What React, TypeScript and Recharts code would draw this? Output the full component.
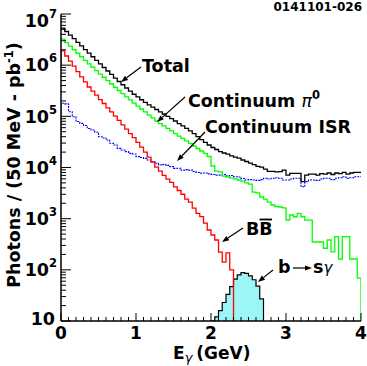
import { Area, ComposedChart, Line, XAxis, YAxis } from 'recharts';

const FONT = "'DejaVu Sans', sans-serif";

// 50 MeV bins, left edges in GeV
const binStart = [
  0, 0.05, 0.1, 0.15, 0.2, 0.25, 0.3, 0.35, 0.4, 0.45,
  0.5, 0.55, 0.6, 0.65, 0.7, 0.75, 0.8, 0.85, 0.9, 0.95,
  1.0, 1.05, 1.1, 1.15, 1.2, 1.25, 1.3, 1.35, 1.4, 1.45,
  1.5, 1.55, 1.6, 1.65, 1.7, 1.75, 1.8, 1.85, 1.9, 1.95,
  2.0, 2.05, 2.1, 2.15, 2.2, 2.25, 2.3, 2.35, 2.4, 2.45,
  2.5, 2.55, 2.6, 2.65, 2.7, 2.75, 2.8, 2.85, 2.9, 2.95,
  3.0, 3.05, 3.1, 3.15, 3.2, 3.25, 3.3, 3.35, 3.4, 3.45,
  3.5, 3.55, 3.6, 3.65, 3.7, 3.75, 3.8, 3.85, 3.9, 3.95,
];

const total = [
  5.3e6, 4.55e6, 3.87e6, 3.29e6, 2.8e6, 2.38e6, 2.02e6, 1.72e6, 1.46e6, 1.24e6,
  1.06e6, 9.0e5, 7.7e5, 6.6e5, 5.6e5, 4.8e5, 4.14e5, 3.58e5, 3.1e5, 2.7e5,
  2.39e5, 2.11e5, 1.88e5, 1.68e5, 1.51e5, 1.36e5, 1.22e5, 1.11e5, 1.0e5, 9.0e4,
  8.1e4, 7.2e4, 6.5e4, 5.8e4, 5.2e4, 4.6e4, 4.0e4, 3.5e4, 3.1e4, 2.75e4,
  2.46e4, 2.25e4, 2.05e4, 1.92e4, 1.82e4, 1.69e4, 1.6e4, 1.52e4, 1.4e4, 1.31e4,
  1.22e4, 1.14e4, 1.05e4, 1.02e4, 9.3e3, 8.4e3, 8.4e3, 8.2e3, 8.3e3, 8.9e3,
  7.1e3, 7.7e3, 7.7e3, 7.7e3, 5.3e3, 7.1e3, 7.4e3, 7.4e3, 7.1e3, 7.6e3,
  7.4e3, 7.8e3, 7.3e3, 7.8e3, 7.6e3, 8.0e3, 7.4e3, 7.8e3, 8.0e3, 8.0e3,
];

const continuumPi0 = [
  3.24e6, 2.76e6, 2.35e6, 2.0e6, 1.71e6, 1.46e6, 1.24e6, 1.06e6, 9.1e5, 7.8e5,
  6.7e5, 5.8e5, 4.97e5, 4.28e5, 3.7e5, 3.2e5, 2.77e5, 2.41e5, 2.1e5, 1.82e5,
  1.59e5, 1.39e5, 1.22e5, 1.06e5, 9.3e4, 8.1e4, 7.2e4, 6.5e4, 5.8e4, 5.2e4,
  4.6e4, 4.1e4, 3.7e4, 3.3e4, 2.94e4, 2.63e4, 2.35e4, 2.1e4, 1.88e4, 1.64e4,
  1.07e4, 8.5e3, 8.2e3, 6.8e3, 6.5e3, 6.2e3, 6.0e3, 5.7e3, 5.4e3, 5.0e3,
  4.75e3, 3.3e3, 3.2e3, 2.65e3, 2.42e3, 2.1e3, 1.85e3, 1.73e3, 1.69e3, 1.62e3,
  942, 1180, 1090, 1270, 1090, 940, 940, 350, 350, 350,
  264, 383, 225, 444, 163, 444, 444, 163, 163, 69,
];

const continuumIsr = [
  1.8e5, 1.75e5, 1.23e5, 9.8e4, 7.9e4, 7.3e4, 6.6e4, 5.8e4, 5.4e4, 4.9e4,
  4.0e4, 3.77e4, 3.44e4, 2.97e4, 2.75e4, 2.37e4, 2.2e4, 2.04e4, 1.89e4, 1.84e4,
  1.63e4, 1.57e4, 1.51e4, 1.4e4, 1.3e4, 1.21e4, 1.12e4, 1.14e4, 1.1e4, 1.04e4,
  9.6e3, 9.7e3, 8.9e3, 9.1e3, 8.9e3, 8.35e3, 8.0e3, 7.7e3, 7.8e3, 7.5e3,
  7.3e3, 7.1e3, 7.1e3, 7.3e3, 6.85e3, 7.0e3, 6.6e3, 6.5e3, 6.1e3, 5.7e3,
  5.8e3, 5.7e3, 5.6e3, 5.8e3, 6.15e3, 5.95e3, 6.15e3, 6.3e3, 6.15e3, 5.7e3,
  5.7e3, 5.95e3, 6.15e3, 6.15e3, 4.2e3, 5.3e3, 5.7e3, 5.7e3, 5.6e3, 5.95e3,
  6.15e3, 6.15e3, 5.8e3, 6.15e3, 6.3e3, 6.6e3, 6.15e3, 6.3e3, 6.6e3, 6.6e3,
];

// BBbar drops off the scale (below 10) above 2.3 GeV
const bbbar = [
  1.9e6, 1.51e6, 1.2e6, 9.6e5, 7.5e5, 5.9e5, 4.7e5, 3.74e5, 3.1e5, 2.6e5,
  2.13e5, 1.78e5, 1.46e5, 1.22e5, 1.01e5, 8.3e4, 6.8e4, 5.6e4, 4.6e4, 3.85e4,
  3.1e4, 2.5e4, 2.0e4, 1.6e4, 1.28e4, 1.02e4, 8.5e3, 7.0e3, 5.95e3, 5.1e3,
  4.2e3, 3.55e3, 3.0e3, 2.4e3, 2.1e3, 1.6e3, 1.27e3, 1.1e3, 820, 600,
  480, 383, 222, 142, 214, 100, 1, null, null, null,
  null, null, null, null, null, null, null, null, null, null,
  null, null, null, null, null, null, null, null, null, null,
  null, null, null, null, null, null, null, null, null, null,
];

// b -> s gamma signal, 2.05 - 2.70 GeV (10 = axis floor)
const bToSGamma = [
  null, null, null, null, null, null, null, null, null, null,
  null, null, null, null, null, null, null, null, null, null,
  null, null, null, null, null, null, null, null, null, null,
  null, null, null, null, null, null, null, null, null, null,
  10, 12, 16, 23, 33, 47, 66, 80, 88, 85,
  76, 64, 48, 27, 10, null, null, null, null, null,
  null, null, null, null, null, null, null, null, null, null,
  null, null, null, null, null, null, null, null, null, null,
];

// level the BBbar and ISR histograms rise from at E = 0
const startBbbar = 8.8e5;
const startIsr = 1.28e4;
// green histogram falls off the scale at the 4 GeV edge
const pi0AfterEnd = 1;

const xTicks = Array.from({ length: 41 }, (_, i) => i / 10);
const yTicks = [10, 100, 1e3, 1e4, 1e5, 1e6]
  .flatMap((d) => [1, 2, 3, 4, 5, 6, 7, 8, 9].map((m) => m * d))
  .concat([1e7]);

const rows = [
  { e: 0, bbbar: startBbbar, isr: startIsr },
  ...binStart.map((e, i) => ({
    e,
    total: total[i],
    pi0: continuumPi0[i],
    isr: continuumIsr[i],
    bbbar: bbbar[i],
    bsg: bToSGamma[i],
  })),
  { e: 4, total: total[79], pi0: pi0AfterEnd, isr: continuumIsr[79] },
];

const isMajorX = (v: number) => Math.abs(v - Math.round(v)) < 1e-6;
const isDecade = (v: number) => Math.abs(Math.log10(v) - Math.round(Math.log10(v))) < 1e-6;

function BottomTick({ x, y, payload }: any) {
  const major = isMajorX(payload.value);
  return (
    <g>
      <line x1={x} x2={x} y1={y} y2={y - (major ? 8 : 4)} stroke="#000" strokeWidth={1} />
      {major && (
        <text x={x} y={y + 18} textAnchor="middle" fontFamily={FONT} fontWeight="bold" fontSize={17} fill="#000">
          {Math.round(payload.value)}
        </text>
      )}
    </g>
  );
}

function TopTick({ x, y, payload }: any) {
  const major = isMajorX(payload.value);
  return <line x1={x} x2={x} y1={y} y2={y + (major ? 8 : 4)} stroke="#000" strokeWidth={1} />;
}

function LeftTick({ x, y, payload }: any) {
  const v = payload.value;
  const major = isDecade(v);
  const exp = Math.round(Math.log10(v));
  const base = exp === 7 ? 12.5 : exp === 1 ? 3.5 : 6.3;
  return (
    <g>
      <line x1={x} x2={x + (major ? 10 : 5)} y1={y} y2={y} stroke="#000" strokeWidth={1} />
      {major && (
        <text
          x={exp === 1 ? x - 6 : x - 4}
          y={y + base}
          textAnchor="end"
          fontFamily={FONT}
          fontWeight="bold"
          fontSize={17.5}
          fill="#000"
        >
          10
          {exp > 1 && (
            <tspan dy={-9} fontSize={11.5}>
              {exp}
            </tspan>
          )}
        </text>
      )}
    </g>
  );
}

function RightTick({ x, y, payload }: any) {
  const major = isDecade(payload.value);
  return <line x1={x} x2={x - (major ? 10 : 5)} y1={y} y2={y} stroke="#000" strokeWidth={1} />;
}

function Arrow({ x1, y1, x2, y2 }: { x1: number; y1: number; x2: number; y2: number }) {
  const a = Math.atan2(y2 - y1, x2 - x1);
  const len = 7;
  const w = 2.6;
  const bx = x2 - len * Math.cos(a);
  const by = y2 - len * Math.sin(a);
  const px = -Math.sin(a) * w;
  const py = Math.cos(a) * w;
  return (
    <g>
      <line x1={x1} y1={y1} x2={bx} y2={by} stroke="#000" strokeWidth={1.2} />
      <polygon points={`${x2},${y2} ${bx + px},${by + py} ${bx - px},${by - py}`} fill="#000" />
    </g>
  );
}

const bold = { fontFamily: FONT, fontWeight: 'bold' as const, fill: '#000' };

export default function App() {
  return (
    <div style={{ position: 'absolute', left: 0, top: 0, width: 367, height: 366, background: '#fff' }}>
      <ComposedChart
        width={367}
        height={366}
        data={rows}
        margin={{ top: 14, right: 6, bottom: 0, left: 0 }}
        style={{ fontFamily: FONT }}
      >
        <XAxis
          xAxisId="b"
          dataKey="e"
          type="number"
          domain={[0, 4]}
          ticks={xTicks}
          interval={0}
          height={45}
          tickSize={0}
          tickMargin={0}
          tickLine={false}
          axisLine={{ stroke: '#000', strokeWidth: 1.5 }}
          tick={<BottomTick />}
          allowDataOverflow
        />
        <XAxis
          xAxisId="t"
          orientation="top"
          type="number"
          domain={[0, 4]}
          ticks={xTicks}
          interval={0}
          height={0}
          tickSize={0}
          tickMargin={0}
          tickLine={false}
          axisLine={{ stroke: '#000', strokeWidth: 1.5 }}
          tick={<TopTick />}
          allowDataOverflow
        />
        <YAxis
          yAxisId="l"
          scale="log"
          type="number"
          domain={[10, 1e7]}
          ticks={yTicks}
          interval={0}
          width={61}
          tickSize={0}
          tickMargin={0}
          tickLine={false}
          axisLine={{ stroke: '#000', strokeWidth: 1.5 }}
          tick={<LeftTick />}
          allowDataOverflow
        />
        <YAxis
          yAxisId="r"
          orientation="right"
          scale="log"
          type="number"
          domain={[10, 1e7]}
          ticks={yTicks}
          interval={0}
          width={0}
          tickSize={0}
          tickMargin={0}
          tickLine={false}
          axisLine={{ stroke: '#000', strokeWidth: 1.5 }}
          tick={<RightTick />}
          allowDataOverflow
        />
        <Area
          xAxisId="b"
          yAxisId="l"
          dataKey="bsg"
          type="stepAfter"
          baseValue={10}
          fill="#9cf6f6"
          fillOpacity={1}
          stroke="#000"
          strokeWidth={1.2}
          dot={false}
          activeDot={false}
          isAnimationActive={false}
        />
        <Line
          xAxisId="b"
          yAxisId="l"
          dataKey="isr"
          type="stepAfter"
          stroke="#0000ff"
          strokeWidth={1.1}
          strokeDasharray="2 1"
          dot={false}
          activeDot={false}
          isAnimationActive={false}
        />
        <Line
          xAxisId="b"
          yAxisId="l"
          dataKey="pi0"
          type="stepAfter"
          stroke="#00ff00"
          strokeWidth={1.3}
          dot={false}
          activeDot={false}
          isAnimationActive={false}
        />
        <Line
          xAxisId="b"
          yAxisId="l"
          dataKey="bbbar"
          type="stepAfter"
          stroke="#ff0000"
          strokeWidth={1.3}
          dot={false}
          activeDot={false}
          isAnimationActive={false}
        />
        <Line
          xAxisId="b"
          yAxisId="l"
          dataKey="total"
          type="stepAfter"
          stroke="#000"
          strokeWidth={1.3}
          dot={false}
          activeDot={false}
          isAnimationActive={false}
        />
      </ComposedChart>

      <svg width={367} height={366} style={{ position: 'absolute', left: 0, top: 0, pointerEvents: 'none' }}>
        <text x={362} y={11} textAnchor="end" fontSize={12} {...bold}>
          0141101-026
        </text>

        <text x={142} y={72} fontSize={17.5} {...bold}>
          Total
        </text>
        <Arrow x1={141} y1={67} x2={121} y2={82} />

        <text x={188} y={107} fontSize={17.5} {...bold}>
          Continuum{' '}
          <tspan fontStyle="italic" fontWeight="normal">
            π
          </tspan>
          <tspan dy={-8} fontSize={11.5}>
            0
          </tspan>
        </text>
        <Arrow x1={185} y1={97} x2={157} y2={122} />

        <text x={205} y={133} fontSize={17.5} {...bold}>
          Continuum ISR
        </text>
        <Arrow x1={205} y1={132} x2={177} y2={161} />

        <text x={246} y={235} fontSize={17.5} {...bold}>
          BB
        </text>
        <line x1={259.5} x2={272} y1={219.5} y2={219.5} stroke="#000" strokeWidth={1.8} />
        <Arrow x1={243} y1={228} x2={222} y2={242} />

        <text x={278} y={273} fontSize={17.5} {...bold}>
          b
        </text>
        <Arrow x1={293} y1={268} x2={312} y2={268} />
        <text x={313} y={273} fontSize={17.5} {...bold}>
          s
          <tspan fontStyle="italic" fontWeight="normal" fontSize={15}>
            γ
          </tspan>
        </text>
        <Arrow x1={273} y1={270} x2={258} y2={282} />

        <text x={173} y={359} fontSize={17} {...bold}>
          E
          <tspan fontStyle="italic" fontWeight="normal" fontSize={13} dy={3}>
            γ
          </tspan>
          <tspan dx={4} dy={-3}>
            (GeV)
          </tspan>
        </text>

        <text x={20} y={165} fontSize={17.5} textAnchor="middle" transform="rotate(-90 20 165)" {...bold}>
          Photons / (50 MeV - pb
          <tspan dy={-7} fontSize={11.5}>
            -1
          </tspan>
          <tspan dy={7}>)</tspan>
        </text>
      </svg>
    </div>
  );
}
